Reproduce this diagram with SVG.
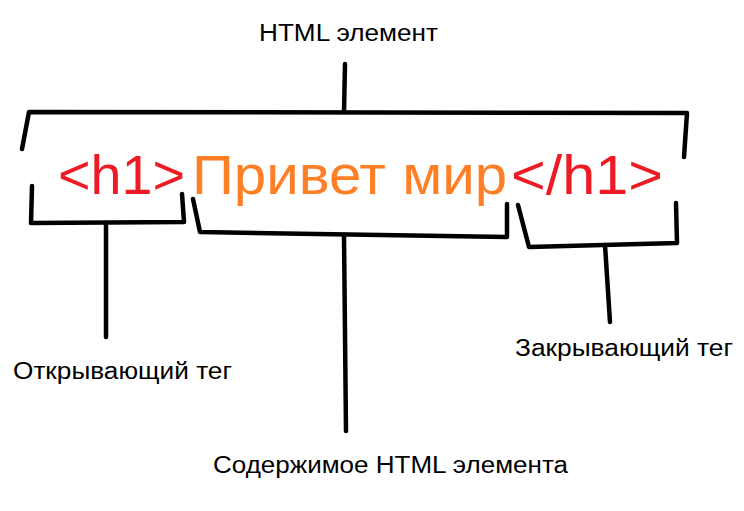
<svg xmlns="http://www.w3.org/2000/svg" width="744" height="511" viewBox="0 0 744 511">
<style>
.ln{fill:none;stroke:#000;stroke-width:4.5;stroke-linecap:round;stroke-linejoin:round}
.lbl{font-family:"Liberation Sans",Arial,sans-serif;font-size:23px;fill:#000}
.big{font-family:"Liberation Sans",Arial,sans-serif;font-size:56px}
.tag{fill:#ed1c24}
.content{fill:#ff7f27}
</style>
<rect width="744" height="511" fill="#fff"/>
<g id="connectors">
<path class="ln" d="M22,149 L29,112 L687,113 L684,157"/>
<path class="ln" d="M345,64 L344,112"/>
<path class="ln" d="M32,186 L31,223 L184,222 L182,194"/>
<path class="ln" d="M106,223 L106,337"/>
<path class="ln" d="M193,199 L200,232 L507,237 L507,204"/>
<path class="ln" d="M344,235 L346,431"/>
<path class="ln" d="M518,205 L529,247 L677,243 L676,203"/>
<path class="ln" d="M605,245 L610,322"/>
</g>
<g id="code">
<text class="big tag" x="58" y="194" textLength="127" lengthAdjust="spacingAndGlyphs">&lt;h1&gt;</text>
<text class="big content" x="192" y="194" textLength="315" lengthAdjust="spacingAndGlyphs">Привет мир</text>
<text class="big tag" x="511" y="194" textLength="152" lengthAdjust="spacingAndGlyphs">&lt;/h1&gt;</text>
</g>
<g id="html-element"><text class="lbl" x="259" y="41" textLength="179" lengthAdjust="spacingAndGlyphs">HTML элемент</text></g>
<g id="opening-tag"><text class="lbl" x="13" y="379" textLength="219" lengthAdjust="spacingAndGlyphs">Открывающий тег</text></g>
<g id="closing-tag"><text class="lbl" x="515" y="356" textLength="218" lengthAdjust="spacingAndGlyphs">Закрывающий тег</text></g>
<g id="element-content"><text class="lbl" x="213" y="473" textLength="355" lengthAdjust="spacingAndGlyphs">Содержимое HTML элемента</text></g>
</svg>
